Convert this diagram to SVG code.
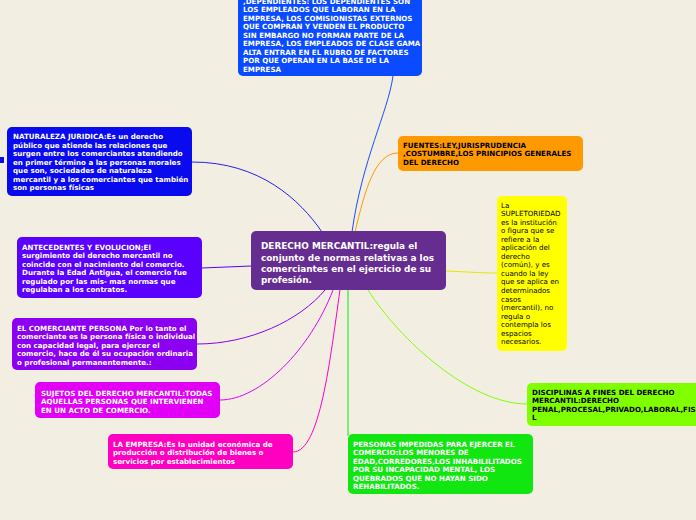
<svg xmlns="http://www.w3.org/2000/svg" width="696" height="520" viewBox="0 0 696 520">
<style>
.t{font-family:"DejaVu Sans",Verdana,sans-serif;font-size:7.1px;font-weight:bold}
.w{fill:#ffffff}
.k{fill:#000000}
.n{font-weight:normal}
.c{fill:none;stroke-width:1}
.main{font-family:"DejaVu Sans",Verdana,sans-serif;font-size:8.9px;font-weight:bold;fill:#ffffff}
</style>
<rect width="696" height="520" fill="#f2efe2"/>
<g id="connectors">
<path class="c" stroke="#1a4cff" d="M352,232 C362,160 388,112 393,76"/>
<path class="c" stroke="#2020ee" d="M322,232 C300,200 260,162 192,162"/>
<path class="c" stroke="#ff9900" d="M355,232 C365,190 375,153 398,153"/>
<path class="c" stroke="#e6e600" d="M446,271 C470,272 480,273 497,273"/>
<path class="c" stroke="#5500ff" d="M251,266 L202,268"/>
<path class="c" stroke="#8800ee" d="M325,290 C300,320 250,344 197,344"/>
<path class="c" stroke="#e000f5" d="M333,290 C310,350 260,400 220,400"/>
<path class="c" stroke="#ff00c0" d="M340,290 C330,360 320,452 293,452"/>
<path class="c" stroke="#11e611" d="M348,290 L348,436"/>
<path class="c" stroke="#80ff00" d="M368,290 C400,340 470,404 527,404"/>
</g>
<g id="center">
<rect x="251" y="231" width="195" height="59" rx="5" fill="#662d91"/>
<text class="main" x="261" y="249">DERECHO MERCANTIL:regula el</text>
<text class="main" x="261" y="261">conjunto de normas relativas a los</text>
<text class="main" x="261" y="272">comerciantes en el ejercicio de su</text>
<text class="main" x="261" y="283">profesión.</text>
</g>
<g id="dependientes">
<rect x="238" y="-10" width="184" height="86" rx="5" fill="#0a4bff"/>
<text class="t w" x="243"><tspan x="243" y="3.5">,DEPENDIENTES: LOS DEPENDIENTES SON</tspan><tspan x="243" y="12">LOS EMPLEADOS QUE LABORAN EN LA</tspan><tspan x="243" y="20.5">EMPRESA, LOS COMISIONISTAS EXTERNOS</tspan><tspan x="243" y="29">QUE COMPRAN Y VENDEN EL PRODUCTO</tspan><tspan x="243" y="37.5">SIN EMBARGO NO FORMAN PARTE DE LA</tspan><tspan x="243" y="46">EMPRESA, LOS EMPLEADOS DE CLASE GAMA</tspan><tspan x="243" y="54.5">ALTA ENTRAR EN EL RUBRO DE FACTORES</tspan><tspan x="243" y="63">POR QUE OPERAN EN LA BASE DE LA</tspan><tspan x="243" y="71.5">EMPRESA</tspan></text>
</g>
<g id="naturaleza">
<rect x="0" y="157" width="4" height="6" fill="#0a0aee"/>
<rect x="7" y="127" width="185" height="69" rx="5" fill="#0a0aee"/>
<text class="t w"><tspan x="13" y="139">NATURALEZA JURIDICA:Es un derecho</tspan><tspan x="13" y="147.5">público que atiende las relaciones que</tspan><tspan x="13" y="156">surgen entre los comerciantes atendiendo</tspan><tspan x="13" y="164.5">en primer término a las personas morales</tspan><tspan x="13" y="173">que son, sociedades de naturaleza</tspan><tspan x="13" y="181.5">mercantil y a los comerciantes que también</tspan><tspan x="13" y="190">son personas físicas</tspan></text>
</g>
<g id="fuentes">
<rect x="398" y="136" width="185" height="35" rx="5" fill="#ff9900"/>
<text class="t k"><tspan x="403" y="147.5">FUENTES:LEY,JURISPRUDENCIA</tspan><tspan x="403" y="156">,COSTUMBRE,LOS PRINCIPIOS GENERALES</tspan><tspan x="403" y="164.5">DEL DERECHO</tspan></text>
</g>
<g id="supletoriedad">
<rect x="497" y="196" width="70" height="155" rx="5" fill="#ffff00"/>
<text class="t k n"><tspan x="501" y="207.5">La</tspan><tspan x="501" y="216.05">SUPLETORIEDAD</tspan><tspan x="501" y="224.6">es la institución</tspan><tspan x="501" y="233.15">o figura que se</tspan><tspan x="501" y="241.7">refiere a la</tspan><tspan x="501" y="250.25">aplicación del</tspan><tspan x="501" y="258.8">derecho</tspan><tspan x="501" y="267.35">(común), y es</tspan><tspan x="501" y="275.9">cuando la ley</tspan><tspan x="501" y="284.45">que se aplica en</tspan><tspan x="501" y="293">determinados</tspan><tspan x="501" y="301.55">casos</tspan><tspan x="501" y="310.1">(mercantil), no</tspan><tspan x="501" y="318.65">regula o</tspan><tspan x="501" y="327.2">contempla los</tspan><tspan x="501" y="335.75">espacios</tspan><tspan x="501" y="344.3">necesarios.</tspan></text>
</g>
<g id="antecedentes">
<rect x="17" y="237" width="185" height="61" rx="5" fill="#5a00ff"/>
<text class="t w"><tspan x="22" y="249.5">ANTECEDENTES Y EVOLUCION;El</tspan><tspan x="22" y="258">surgimiento del derecho mercantil no</tspan><tspan x="22" y="266.5">coincide con el nacimiento del comercio.</tspan><tspan x="22" y="275">Durante la Edad Antigua, el comercio fue</tspan><tspan x="22" y="283.5">regulado por las mis- mas normas que</tspan><tspan x="22" y="292">regulaban a los contratos.</tspan></text>
</g>
<g id="comerciante">
<rect x="12" y="318" width="185" height="52" rx="5" fill="#8b00f0"/>
<text class="t w"><tspan x="17" y="330.5">EL COMERCIANTE PERSONA Por lo tanto el</tspan><tspan x="17" y="339">comerciante es la persona física o individual</tspan><tspan x="17" y="347.5">con capacidad legal, para ejercer el</tspan><tspan x="17" y="356">comercio, hace de él su ocupación ordinaria</tspan><tspan x="17" y="364.5">o profesional permanentemente.:</tspan></text>
</g>
<g id="sujetos">
<rect x="35" y="382" width="185" height="36" rx="5" fill="#e100f5"/>
<text class="t w"><tspan x="41" y="395.5">SUJETOS DEL DERECHO MERCANTIL:TODAS</tspan><tspan x="41" y="404">AQUELLAS PERSONAS QUE INTERVIENEN</tspan><tspan x="41" y="412.5">EN UN ACTO DE COMERCIO.</tspan></text>
</g>
<g id="empresa">
<rect x="108" y="434" width="185" height="35" rx="5" fill="#ff00c0"/>
<text class="t w"><tspan x="113" y="446.5">LA EMPRESA:Es la unidad económica de</tspan><tspan x="113" y="455">producción o distribución de bienes o</tspan><tspan x="113" y="463.5">servicios por establecimientos</tspan></text>
</g>
<g id="impedidas">
<rect x="348" y="434" width="185" height="60" rx="5" fill="#11e611"/>
<text class="t w"><tspan x="353" y="446.5">PERSONAS IMPEDIDAS PARA EJERCER EL</tspan><tspan x="353" y="455">COMERCIO:LOS MENORES DE</tspan><tspan x="353" y="463.5">EDAD,CORREDORES,LOS INHABILILITADOS</tspan><tspan x="353" y="472">POR SU INCAPACIDAD MENTAL, LOS</tspan><tspan x="353" y="480.5">QUEBRADOS QUE NO HAYAN SIDO</tspan><tspan x="353" y="489">REHABILITADOS.</tspan></text>
</g>
<g id="disciplinas">
<rect x="527" y="383" width="180" height="43" rx="5" fill="#80ff00"/>
<text class="t k"><tspan x="532" y="394.5">DISCIPLINAS A FINES DEL DERECHO</tspan><tspan x="532" y="403">MERCANTIL:DERECHO</tspan><tspan x="532" y="411.5">PENAL,PROCESAL,PRIVADO,LABORAL,FISCA</tspan><tspan x="532" y="420">L</tspan></text>
</g>
</svg>
